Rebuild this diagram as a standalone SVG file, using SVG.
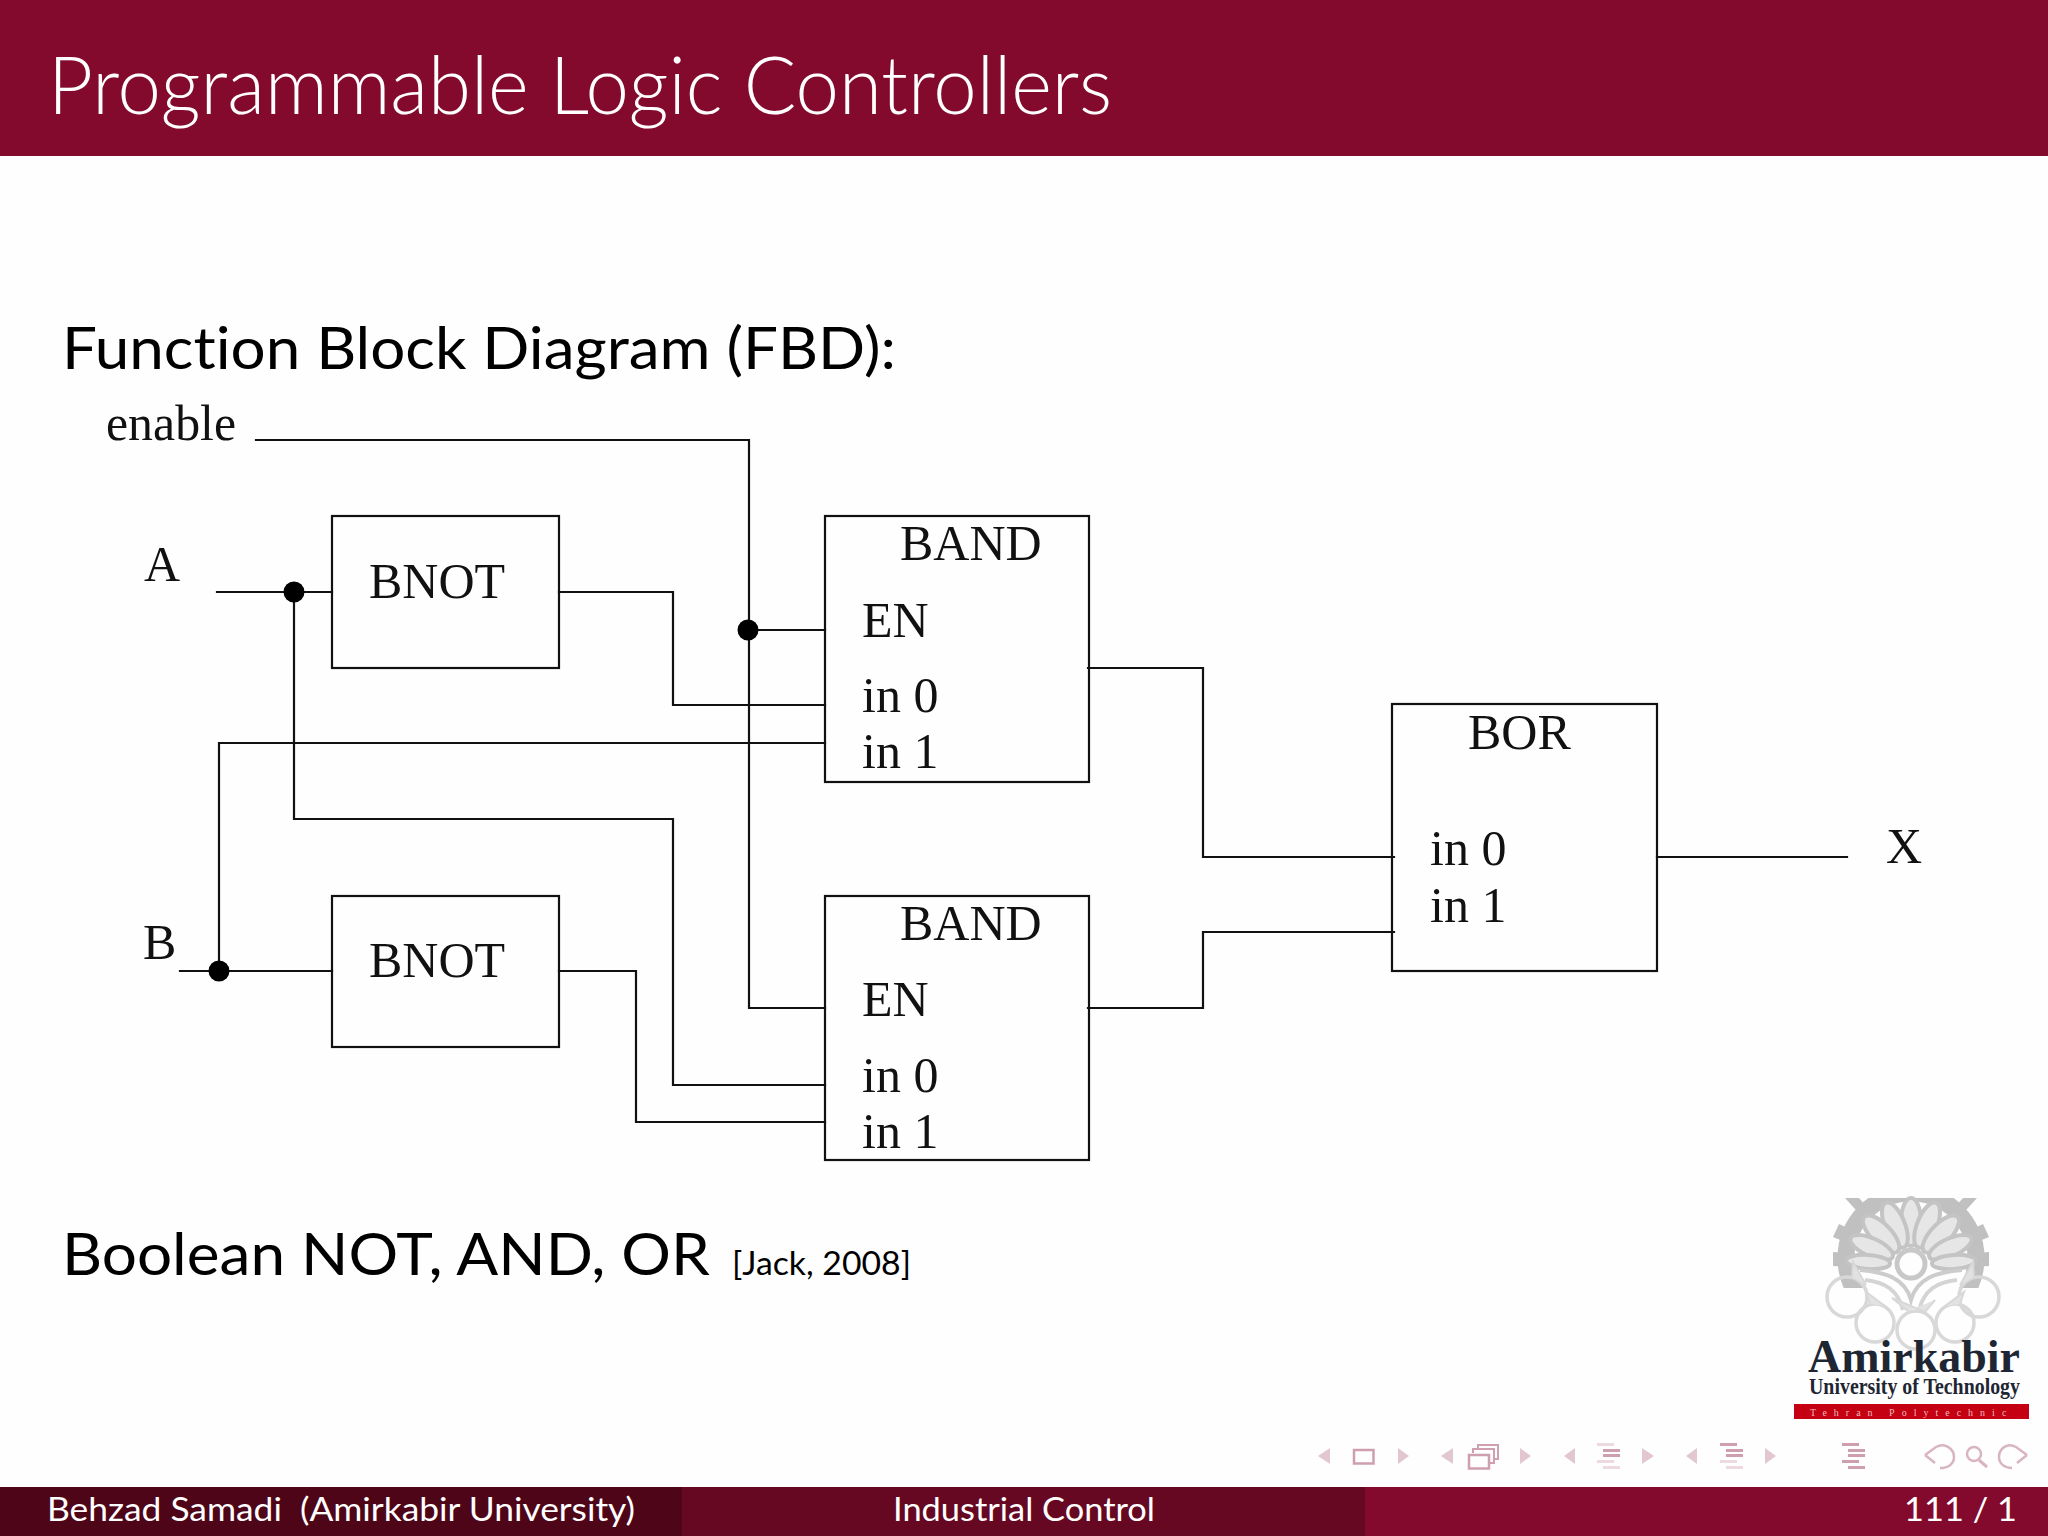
<svg xmlns="http://www.w3.org/2000/svg" width="2048" height="1536" viewBox="0 0 2048 1536">
<defs>
<style>
.s{font-family:"Lato","Noto Sans","Liberation Sans",sans-serif;white-space:pre;font-weight:300;font-variant-ligatures:none}
.f{font-weight:400}
.d{font-family:"Liberation Serif",serif;font-size:50px;fill:#111}
.w{stroke:#111;stroke-width:2.2;fill:none;stroke-linecap:square}
.b{stroke:#111;stroke-width:2.2;fill:#fefefe}
.t{fill:#e2c7d1}
.i{fill:#cf9fb0}
.l{fill:#edd9e0}
.r{fill:none;stroke:#d8d8d8;stroke-width:3.5}
.p{fill:#e6e6e6;stroke:#c4c4c4;stroke-width:4}
</style>
<clipPath id="gc"><rect x="1820" y="1198" width="180" height="90"/></clipPath>
</defs>
<rect width="2048" height="1536" fill="#fefefe"/>
<g id="header">
<rect width="2048" height="156" fill="#830a2d"/>
<text class="s" x="48" y="114" font-size="80" fill="#fff" textLength="1064" lengthAdjust="spacingAndGlyphs">Programmable Logic Controllers</text>
</g>
<text class="s f" x="62" y="369" font-size="58" fill="#000" textLength="834" lengthAdjust="spacingAndGlyphs">Function Block Diagram (FBD):</text>
<text class="s f" x="62" y="1275" font-size="58" fill="#000" textLength="648" lengthAdjust="spacingAndGlyphs">Boolean NOT, AND, OR</text>
<text class="s f" x="732" y="1275" font-size="33" fill="#000" textLength="179" lengthAdjust="spacingAndGlyphs">[Jack, 2008]</text>
<g id="bnot-1">
<rect class="b" x="332" y="516" width="227" height="152"/>
<text class="d" x="369" y="598">BNOT</text>
</g>
<g id="bnot-2">
<rect class="b" x="332" y="896" width="227" height="151"/>
<text class="d" x="369" y="977">BNOT</text>
</g>
<g id="band-1">
<rect class="b" x="825" y="516" width="264" height="266"/>
<text class="d" x="900" y="560">BAND</text>
<text class="d" x="862" y="637">EN</text>
<text class="d" x="862" y="712">in 0</text>
<text class="d" x="862" y="768">in 1</text>
</g>
<g id="band-2">
<rect class="b" x="825" y="896" width="264" height="264"/>
<text class="d" x="900" y="940">BAND</text>
<text class="d" x="862" y="1016">EN</text>
<text class="d" x="862" y="1092">in 0</text>
<text class="d" x="862" y="1148">in 1</text>
</g>
<g id="bor">
<rect class="b" x="1392" y="704" width="265" height="267"/>
<text class="d" x="1468" y="749">BOR</text>
<text class="d" x="1430" y="865">in 0</text>
<text class="d" x="1430" y="922">in 1</text>
</g>
<g id="connectors">
<path class="w" d="M256 440H749V1008H825"/>
<path class="w" d="M748 630H825"/>
<path class="w" d="M217 592H332"/>
<path class="w" d="M559 592H673V705H825"/>
<path class="w" d="M294 592V819H673V1085H825"/>
<path class="w" d="M825 743H219V971"/>
<path class="w" d="M180 971H332"/>
<path class="w" d="M559 971H636V1122H825"/>
<path class="w" d="M1088 668H1203V857H1394"/>
<path class="w" d="M1088 1008H1203V932H1394"/>
<path class="w" d="M1657 857H1847"/>
<circle cx="294" cy="592" r="10.500" fill="#000"/>
<circle cx="748" cy="630" r="10.500" fill="#000"/>
<circle cx="219" cy="971" r="10.500" fill="#000"/>
</g>
<g id="label-enable"><text class="d" x="106" y="440" textLength="130" lengthAdjust="spacingAndGlyphs">enable</text></g>
<g id="label-a"><text class="d" x="144" y="581">A</text></g>
<g id="label-b"><text class="d" x="143" y="959">B</text></g>
<g id="label-x"><text class="d" x="1886" y="863">X</text></g>
<g id="logo">
<g clip-path="url(#gc)">
<circle cx="1911" cy="1258" r="65" fill="none" stroke="#c0c0c0" stroke-width="17"/>
<path d="M1911 1258l-78 -6v14l78 4zM1911 1258l78 -6v14l-78 4zM1911 1258l-72 -34 -6 13 72 30zM1911 1258l72 -34 6 13 -72 30zM1911 1258l-52 -60h-14l60 66zM1911 1258l52 -60h14l-60 66z" fill="#c0c0c0"/>
<circle cx="1911" cy="1258" r="56" fill="#fefefe"/>
</g>
<g>
<ellipse class="p" cx="1911" cy="1222" rx="10" ry="24"/>
<ellipse class="p" cx="1911" cy="1222" rx="10" ry="24" transform="rotate(-22 1911 1265)"/>
<ellipse class="p" cx="1911" cy="1222" rx="10" ry="24" transform="rotate(22 1911 1265)"/>
<ellipse class="p" cx="1911" cy="1222" rx="10" ry="24" transform="rotate(-44 1911 1265)"/>
<ellipse class="p" cx="1911" cy="1222" rx="10" ry="24" transform="rotate(44 1911 1265)"/>
<ellipse class="p" cx="1911" cy="1222" rx="9" ry="23" transform="rotate(-66 1911 1265)"/>
<ellipse class="p" cx="1911" cy="1222" rx="9" ry="23" transform="rotate(66 1911 1265)"/>
<ellipse class="p" cx="1911" cy="1222" rx="7" ry="22" transform="rotate(-86 1911 1265)"/>
<ellipse class="p" cx="1911" cy="1222" rx="7" ry="22" transform="rotate(86 1911 1265)"/>
</g>
<circle cx="1911" cy="1264" r="14" fill="#fefefe" stroke="#c8c8c8" stroke-width="5"/>
<path d="M1860 1270C1885 1272 1905 1278 1911 1300C1917 1278 1937 1272 1962 1270" fill="none" stroke="#cccccc" stroke-width="4"/>
<path d="M1865 1280C1885 1282 1898 1290 1903 1310M1957 1280C1937 1282 1924 1290 1919 1310" fill="none" stroke="#d4d4d4" stroke-width="4"/>
<circle class="r" cx="1847" cy="1297" r="20"/>
<circle class="r" cx="1979" cy="1297" r="20"/>
<circle class="r" cx="1875" cy="1323" r="19"/>
<circle class="r" cx="1916" cy="1330" r="19"/>
<circle class="r" cx="1955" cy="1323" r="19"/>
<path d="M1852 1277L1853 1262 1866 1285M1974 1277L1973 1262 1960 1285M1870 1304L1866 1292 1885 1306M1960 1304L1964 1292 1945 1306M1908 1311L1892 1298 1925 1312 1935 1300" fill="#e2e2e2" stroke="#d8d8d8" stroke-width="2"/>
<text x="1808" y="1372" font-family="Liberation Serif,serif" font-size="46" font-weight="bold" fill="#1f2633" textLength="212" lengthAdjust="spacingAndGlyphs">Amirkabir</text>
<text x="1809" y="1394" font-family="Liberation Serif,serif" font-size="23" font-weight="bold" fill="#1f2633" textLength="211" lengthAdjust="spacingAndGlyphs">University of Technology</text>
<rect x="1794" y="1404" width="235" height="15" fill="#c40012"/>
<text x="1810" y="1415.500" font-family="Liberation Serif,serif" font-size="10" fill="#efb9b9" letter-spacing="7" style="white-space:pre">Tehran Polytechnic</text>
</g>
<g id="nav">
<path class="t" d="M1330 1448V1464L1318 1456zM1398 1448V1464L1409 1456zM1453 1448V1464L1441 1456zM1520 1448V1464L1531 1456zM1575 1448V1464L1564 1456zM1642 1448V1464L1654 1456zM1697 1448V1464L1686 1456zM1765 1448V1464L1776 1456z"/>
<rect x="1354" y="1450" width="19.500" height="13.500" fill="none" stroke="#cf9fb0" stroke-width="2.500"/>
<path fill="none" stroke="#cf9fb0" stroke-width="2" d="M1478 1449V1445H1498V1459H1494M1473 1453V1449H1494V1463H1490"/>
<rect x="1469" y="1455" width="20" height="13.500" fill="#fefefe" stroke="#cf9fb0" stroke-width="2.500"/>
<path class="l" d="M1597 1443h17v3h-17zM1597 1460h17v3h-17zM1603 1466h17v3h-17z"/>
<path class="i" d="M1603 1449h17v3h-17zM1603 1454h17v3h-17z"/>
<path class="i" d="M1720 1443h17v3h-17zM1726 1449h17v3h-17zM1726 1454h17v3h-17z"/>
<path class="l" d="M1720 1460h17v3h-17zM1726 1466h17v3h-17z"/>
<path class="i" d="M1842 1443h17v3h-17zM1848 1449h17v3h-17zM1848 1454h17v3h-17zM1842 1460h17v3h-17zM1848 1466h17v3h-17z"/>
<path fill="none" stroke="#d9b5c2" stroke-width="2.500" d="M1925 1455L1935 1463M1925 1455L1936 1447C1945 1442 1954 1449 1954 1457C1954 1464 1948 1468 1940 1468"/>
<circle cx="1974" cy="1454" r="7" fill="none" stroke="#d9b5c2" stroke-width="2.500"/>
<path stroke="#d9b5c2" stroke-width="3" d="M1979 1460L1987 1467"/>
<path fill="none" stroke="#d9b5c2" stroke-width="2.500" d="M2027 1455L2017 1463M2027 1455L2016 1447C2007 1442 1999 1449 1999 1457C1999 1464 2005 1468 2012 1468"/>
</g>
<g id="footer">
<rect y="1487" width="2048" height="49" fill="#830a2d"/>
<rect y="1487" width="682" height="49" fill="#4e0518"/>
<rect x="682" y="1487" width="683" height="49" fill="#670822"/>
<text class="s f" x="47" y="1521" font-size="32" fill="#fff" textLength="588" lengthAdjust="spacingAndGlyphs">Behzad Samadi  (Amirkabir University)</text>
<text class="s f" x="893" y="1521" font-size="32" fill="#fff" textLength="262" lengthAdjust="spacingAndGlyphs">Industrial Control</text>
<text class="s f" x="1904" y="1521" font-size="32" fill="#fff" textLength="113" lengthAdjust="spacingAndGlyphs">111 / 1</text>
</g>
</svg>
